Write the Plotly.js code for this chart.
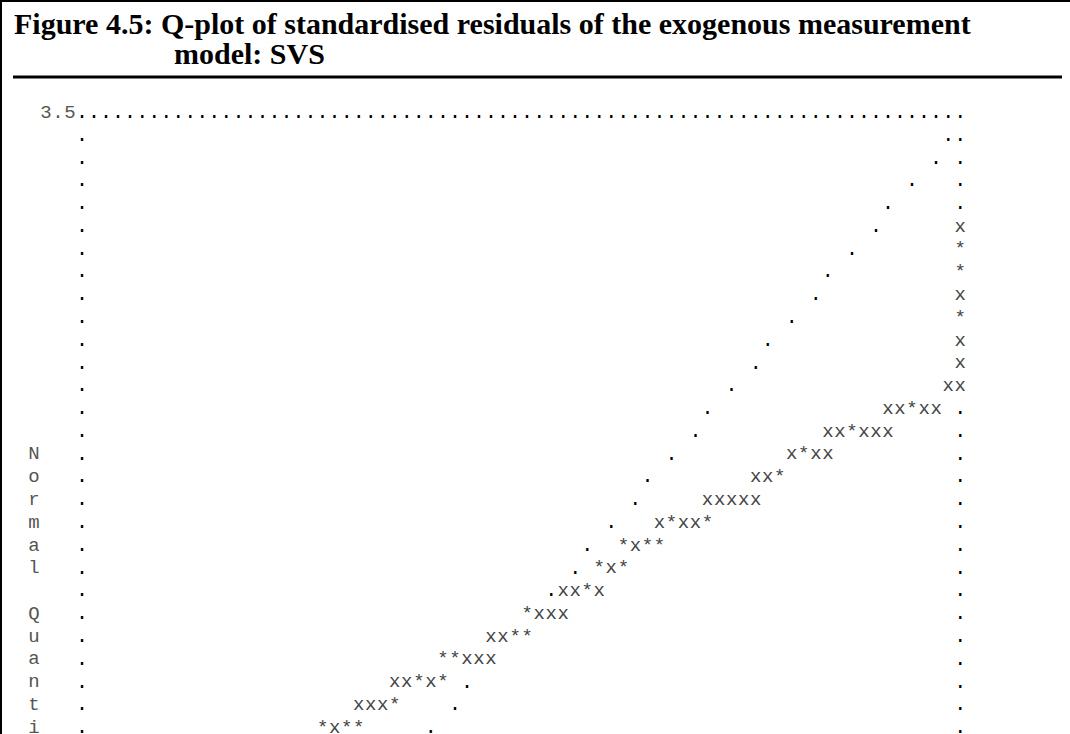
<!DOCTYPE html>
<html>
<head>
<meta charset="utf-8">
<script src="https://cdn.plot.ly/plotly-3.0.1.min.js"></script>
<style>html,body{margin:0;padding:0;background:#fff;}#chart{width:1070px;height:734px;}</style>
</head>
<body>
<div id="chart"></div>
<script>
// ---- Chart content (read from the LISREL text Q-plot) ----
const titleLine1 = "Figure 4.5: Q-plot of standardised residuals of the exogenous measurement";
const titleLine2 = "model: SVS";
const topTickLabel = "3.5";                 // value label at the top of the vertical axis
const topTickRow = 0;
const sideLabel = ["N","o","r","m","a","l"," ","Q","u","a","n","t","i"]; // "Normal Quanti..." written vertically
const sideLabelFirstRow = 15;
// Each row: list of [column, characters]; '.' = reference line / frame, 'x' = single residual, '*' = several
const plotRows = [
  [[0,".........................................................................."]],
  [[0,"."],[72,".."]],
  [[0,"."],[71,"."],[73,"."]],
  [[0,"."],[69,"."],[73,"."]],
  [[0,"."],[67,"."],[73,"."]],
  [[0,"."],[66,"."],[73,"x"]],
  [[0,"."],[64,"."],[73,"*"]],
  [[0,"."],[62,"."],[73,"*"]],
  [[0,"."],[61,"."],[73,"x"]],
  [[0,"."],[59,"."],[73,"*"]],
  [[0,"."],[57,"."],[73,"x"]],
  [[0,"."],[56,"."],[73,"x"]],
  [[0,"."],[54,"."],[72,"xx"]],
  [[0,"."],[52,"."],[67,"xx*xx"],[73,"."]],
  [[0,"."],[51,"."],[62,"xx*xxx"],[73,"."]],
  [[0,"."],[49,"."],[59,"x*xx"],[73,"."]],
  [[0,"."],[47,"."],[56,"xx*"],[73,"."]],
  [[0,"."],[46,"."],[52,"xxxxx"],[73,"."]],
  [[0,"."],[44,"."],[48,"x*xx*"],[73,"."]],
  [[0,"."],[42,"."],[45,"*x**"],[73,"."]],
  [[0,"."],[41,"."],[43,"*x*"],[73,"."]],
  [[0,"."],[39,".xx*x"],[73,"."]],
  [[0,"."],[37,"*xxx"],[73,"."]],
  [[0,"."],[34,"xx**"],[73,"."]],
  [[0,"."],[30,"**xxx"],[73,"."]],
  [[0,"."],[26,"xx*x*"],[32,"."],[73,"."]],
  [[0,"."],[23,"xxx*"],[31,"."],[73,"."]],
  [[0,"."],[20,"*x**"],[29,"."],[73,"."]]
];

// ---- Build character points ----
const dotX = [], dotY = [], dotT = [];
const symX = [], symY = [], symT = [];
plotRows.forEach((segs, r) => {
  segs.forEach(([c, s]) => {
    for (let i = 0; i < s.length; i++) {
      const ch = s[i];
      if (ch === " ") continue;
      if (ch === ".") { dotX.push(c + i); dotY.push(r); dotT.push(ch); }
      else { symX.push(c + i); symY.push(r); symT.push(ch); }
    }
  });
});
const lblX = [], lblY = [], lblT = [];
for (let i = 0; i < topTickLabel.length; i++) { lblX.push(i - topTickLabel.length); lblY.push(topTickRow); lblT.push(topTickLabel[i]); }
sideLabel.forEach((ch, i) => { if (ch.trim()) { lblX.push(-4); lblY.push(sideLabelFirstRow + i); lblT.push(ch); } });

// ---- Layout geometry ----
const W = 1070, H = 734;
const colPx = 12.03, col0Px = 82;
const rowPx = 22.78, row0Px = 113;
const xr = [-col0Px / colPx, (W - col0Px) / colPx];
const yr = [(H - row0Px) / rowPx, -row0Px / rowPx];

const mono = "Courier New, Liberation Mono, monospace";
const serif = "Liberation Serif, Times New Roman, serif";
const traces = [
  {x: dotX, y: dotY, text: dotT, mode: "text", type: "scatter", textposition: "middle center",
   textfont: {family: mono, size: 20, color: "#000"}, hoverinfo: "skip", cliponaxis: false},
  {x: symX, y: symY, text: symT, mode: "text", type: "scatter", textposition: "middle center",
   textfont: {family: mono, size: 19, color: "#444"}, hoverinfo: "skip", cliponaxis: false},
  {x: lblX, y: lblY, text: lblT, mode: "text", type: "scatter", textposition: "middle center",
   textfont: {family: mono, size: 19, color: "#555"}, hoverinfo: "skip", cliponaxis: false}
];

const layout = {
  width: W, height: H,
  margin: {l: 0, r: 0, t: 0, b: 0},
  paper_bgcolor: "#fff", plot_bgcolor: "#fff",
  showlegend: false,
  xaxis: {range: xr, visible: false, fixedrange: true},
  yaxis: {range: yr, visible: false, fixedrange: true},
  annotations: [
    {text: "<b>" + titleLine1 + "</b>", xref: "paper", yref: "paper", x: 12 / W, y: 1 - 5 / H,
     xanchor: "left", yanchor: "top", showarrow: false,
     font: {family: serif, size: 30, color: "#000"}},
    {text: "<b>" + titleLine2 + "</b>", xref: "paper", yref: "paper", x: 172 / W, y: 1 - 35 / H,
     xanchor: "left", yanchor: "top", showarrow: false,
     font: {family: serif, size: 30, color: "#000"}}
  ],
  shapes: [
    {type: "line", xref: "paper", yref: "paper", x0: 1 / W, x1: 1 / W, y0: 0, y1: 1, line: {color: "#000", width: 2}},
    {type: "line", xref: "paper", yref: "paper", x0: 0, x1: 1, y0: 1 - 1 / H, y1: 1 - 1 / H, line: {color: "#000", width: 2}},
    {type: "line", xref: "paper", yref: "paper", x0: 13 / W, x1: 1062 / W, y0: 1 - 77 / H, y1: 1 - 77 / H, line: {color: "#000", width: 3}}
  ]
};

Plotly.newPlot("chart", traces, layout, {staticPlot: true, displayModeBar: false});
</script>
</body>
</html>
